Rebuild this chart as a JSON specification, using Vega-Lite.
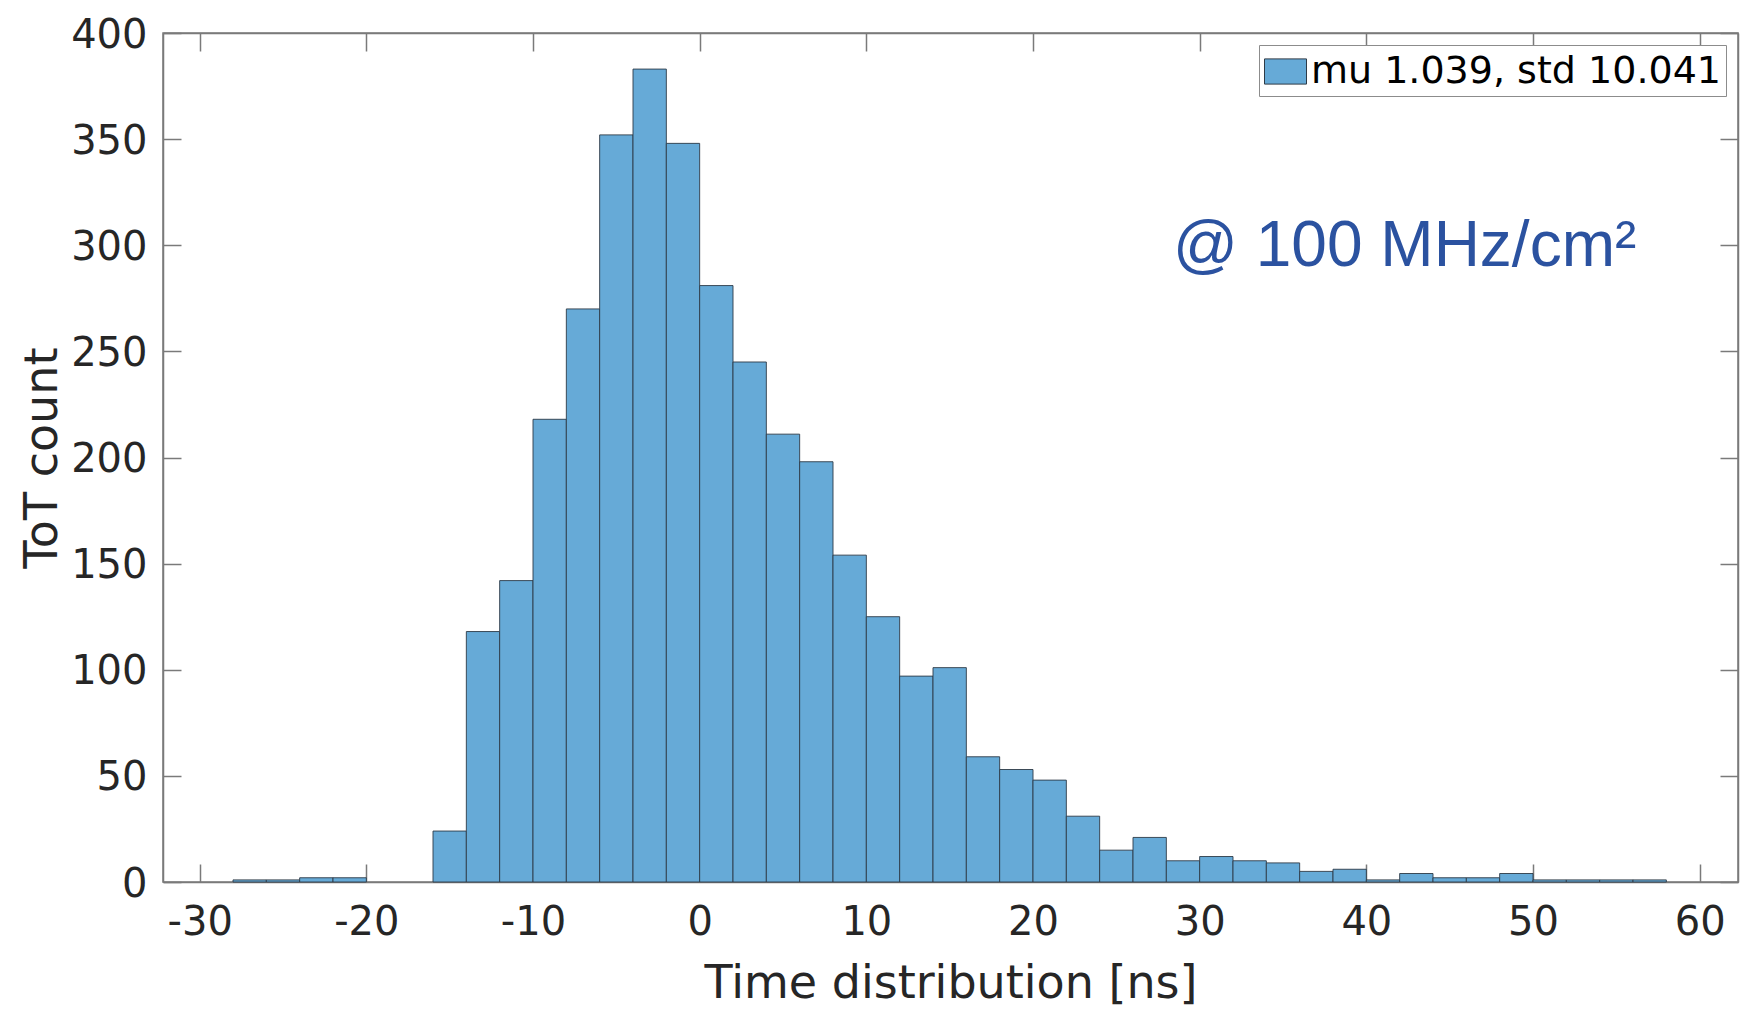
{
  "$schema": "https://vega.github.io/schema/vega-lite/v6.json",
  "width": 1575,
  "height": 849,
  "autosize": {"type": "none"},
  "padding": {"left": 163, "top": 33, "right": 2, "bottom": 133},
  "background": "white",
  "datasets": {
    "hist": [
      {"start": -28, "end": -26, "count": 1},
      {"start": -26, "end": -24, "count": 1},
      {"start": -24, "end": -22, "count": 2},
      {"start": -22, "end": -20, "count": 2},
      {"start": -16, "end": -14, "count": 24},
      {"start": -14, "end": -12, "count": 118},
      {"start": -12, "end": -10, "count": 142},
      {"start": -10, "end": -8, "count": 218},
      {"start": -8, "end": -6, "count": 270},
      {"start": -6, "end": -4, "count": 352},
      {"start": -4, "end": -2, "count": 383},
      {"start": -2, "end": 0, "count": 348},
      {"start": 0, "end": 2, "count": 281},
      {"start": 2, "end": 4, "count": 245},
      {"start": 4, "end": 6, "count": 211},
      {"start": 6, "end": 8, "count": 198},
      {"start": 8, "end": 10, "count": 154},
      {"start": 10, "end": 12, "count": 125},
      {"start": 12, "end": 14, "count": 97},
      {"start": 14, "end": 16, "count": 101},
      {"start": 16, "end": 18, "count": 59},
      {"start": 18, "end": 20, "count": 53},
      {"start": 20, "end": 22, "count": 48},
      {"start": 22, "end": 24, "count": 31},
      {"start": 24, "end": 26, "count": 15},
      {"start": 26, "end": 28, "count": 21},
      {"start": 28, "end": 30, "count": 10},
      {"start": 30, "end": 32, "count": 12},
      {"start": 32, "end": 34, "count": 10},
      {"start": 34, "end": 36, "count": 9},
      {"start": 36, "end": 38, "count": 5},
      {"start": 38, "end": 40, "count": 6},
      {"start": 40, "end": 42, "count": 1},
      {"start": 42, "end": 44, "count": 4},
      {"start": 44, "end": 46, "count": 2},
      {"start": 46, "end": 48, "count": 2},
      {"start": 48, "end": 50, "count": 4},
      {"start": 50, "end": 52, "count": 1},
      {"start": 52, "end": 54, "count": 1},
      {"start": 54, "end": 56, "count": 1},
      {"start": 56, "end": 58, "count": 1}
    ],
    "note": [
      {"t": "@ 100 MHz/cm²", "x": 28.4, "y": 290.2}
    ]
  },
  "config": {
    "view": {"stroke": "#7a7a7a", "strokeWidth": 1.5},
    "font": "DejaVu Sans",
    "axis": {
      "domainColor": "#7a7a7a",
      "domainWidth": 1.5,
      "tickColor": "#7a7a7a",
      "tickWidth": 1.5,
      "tickSize": -18,
      "grid": false,
      "labelFont": "DejaVu Sans",
      "labelFontSize": 40,
      "labelColor": "#262626",
      "titleFont": "DejaVu Sans",
      "titleFontSize": 46,
      "titleFontWeight": "normal",
      "titleColor": "#262626"
    }
  },
  "layer": [
    {
      "data": {"name": "hist"},
      "mark": {"type": "bar", "stroke": "#2e3b47", "strokeWidth": 1, "strokeOpacity": 0.9},
      "encoding": {
        "x": {
          "field": "start", "type": "quantitative",
          "scale": {"domain": [-32.2, 62.3], "nice": false, "zero": false},
          "axis": {
            "orient": "bottom",
            "values": [-30, -20, -10, 0, 10, 20, 30, 40, 50, 60],
            "labelExpr": "datum.value < 0 ? '-' + abs(datum.value) : '' + datum.value",
            "labelFlush": false,
            "labelPadding": 38,
            "title": "Time distribution [ns]",
            "titlePadding": 19
          }
        },
        "x2": {"field": "end"},
        "y": {
          "field": "count", "type": "quantitative",
          "scale": {"domain": [0, 400], "nice": false},
          "axis": {
            "orient": "left",
            "values": [0, 50, 100, 150, 200, 250, 300, 350, 400],
            "labelPadding": 34,
            "labelBaseline": "middle",
            "labelOffset": 2,
            "title": "ToT count",
            "titlePadding": 4
          }
        },
        "y2": {"datum": 0},
        "fill": {
          "datum": "mu 1.039, std 10.041",
          "type": "nominal",
          "scale": {"range": ["#66aad7"]},
          "legend": {
            "orient": "top-right",
            "offset": 12,
            "title": null,
            "symbolType": "M-1,-0.6H1V0.6H-1Z",
            "symbolSize": 1764,
            "symbolStrokeColor": "#2e3b47",
            "symbolStrokeWidth": 1,
            "symbolOpacity": 1,
            "labelFont": "DejaVu Sans",
            "labelFontSize": 38,
            "labelColor": "#000000",
            "labelOffset": 4,
            "labelLimit": 800,
            "padding": 5,
            "strokeColor": "#8c8c8c",
            "fillColor": "white"
          }
        }
      }
    },
    {
      "data": {"name": "hist"},
      "mark": {"type": "bar", "opacity": 0},
      "encoding": {
        "x": {
          "field": "start", "type": "quantitative",
          "scale": {"domain": [-32.2, 62.3], "nice": false, "zero": false},
          "axis": {"orient": "top", "values": [-30, -20, -10, 0, 10, 20, 30, 40, 50, 60], "labels": false, "title": null}
        },
        "x2": {"field": "end"},
        "y": {
          "field": "count", "type": "quantitative",
          "scale": {"domain": [0, 400], "nice": false},
          "axis": {"orient": "right", "values": [0, 50, 100, 150, 200, 250, 300, 350, 400], "labels": false, "title": null}
        },
        "y2": {"datum": 0}
      }
    },
    {
      "data": {"name": "note"},
      "mark": {"type": "text", "font": "Liberation Sans", "fontSize": 64, "color": "#2b52a0", "align": "left", "baseline": "alphabetic"},
      "encoding": {
        "x": {"field": "x", "type": "quantitative", "scale": {"domain": [-32.2, 62.3], "nice": false, "zero": false}, "axis": null},
        "y": {"field": "y", "type": "quantitative", "scale": {"domain": [0, 400], "nice": false}, "axis": null},
        "text": {"field": "t"}
      }
    }
  ],
  "resolve": {"axis": {"x": "independent", "y": "independent"}}
}
